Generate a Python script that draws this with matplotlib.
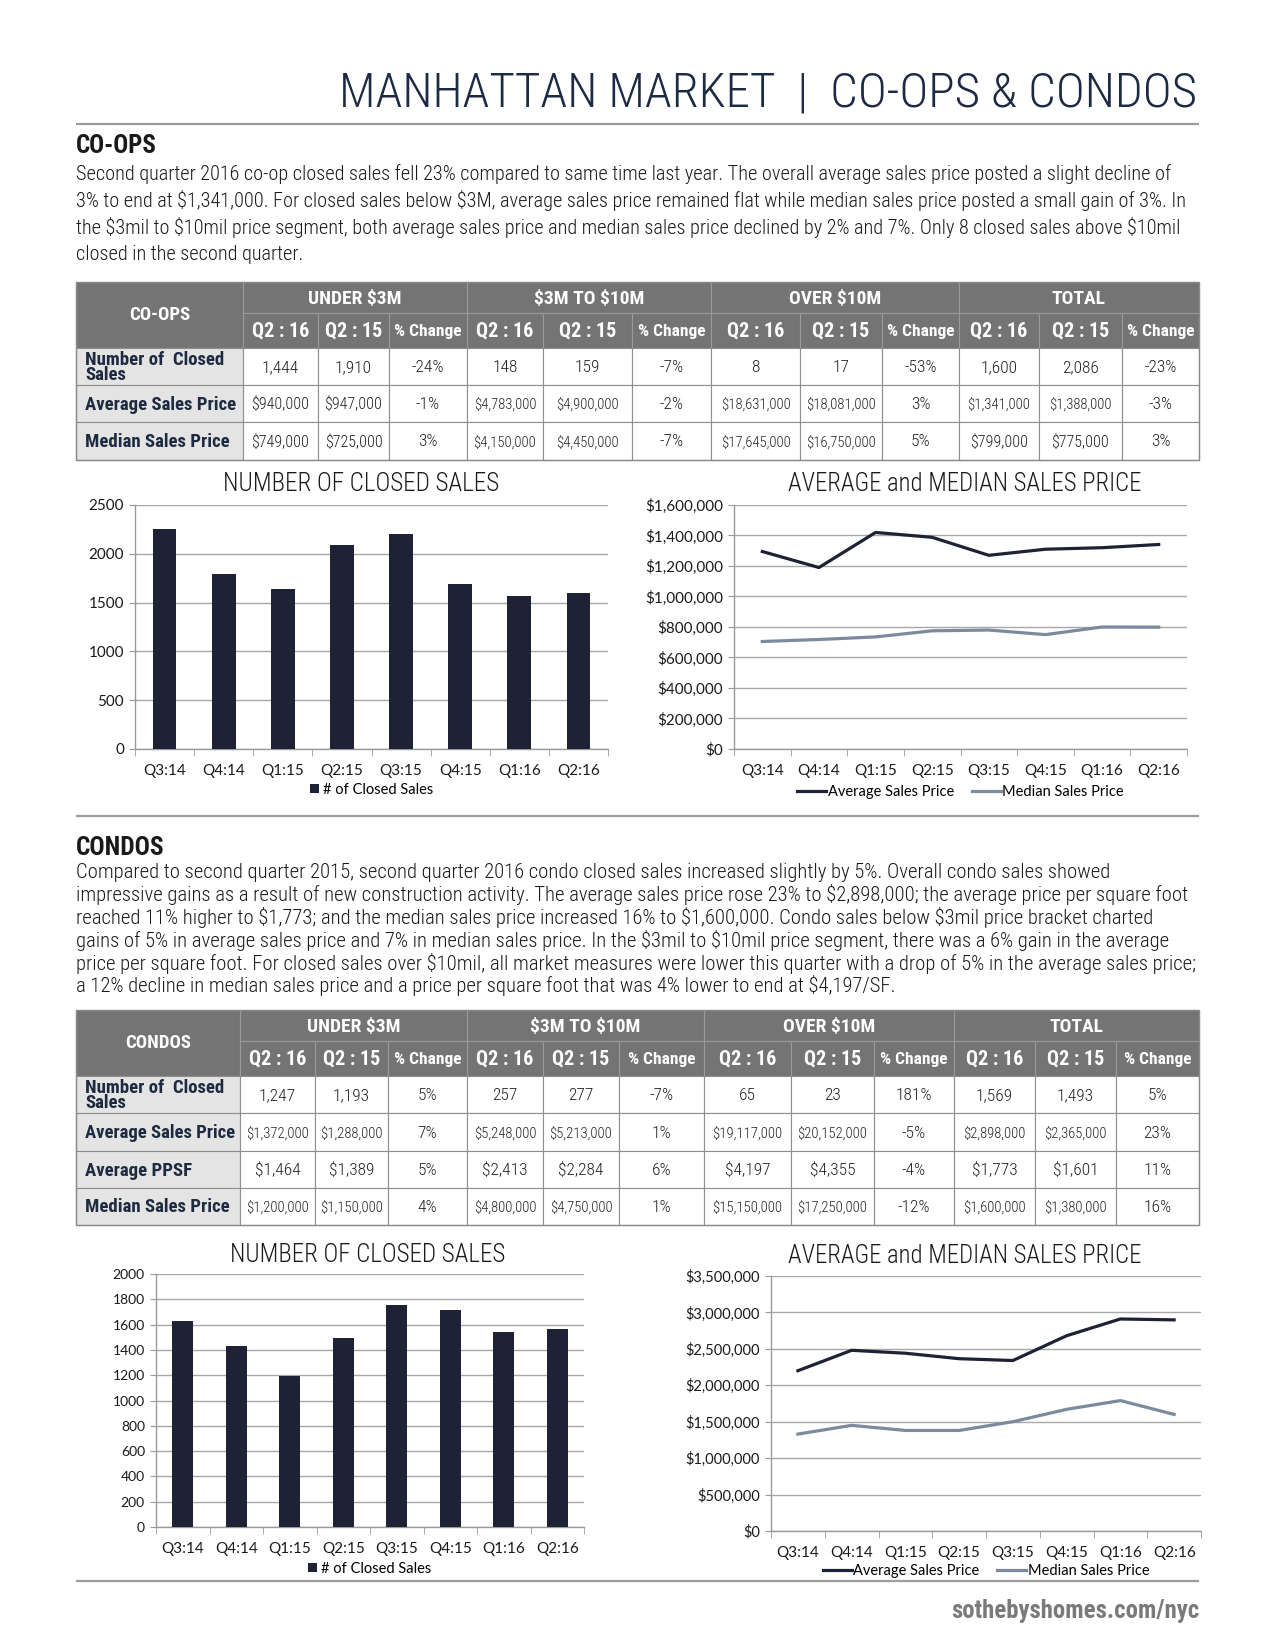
import os
import numpy as np
import matplotlib
matplotlib.use("Agg")
import matplotlib.pyplot as plt
from matplotlib import font_manager as fm
from matplotlib.patches import Rectangle
from matplotlib.ticker import FuncFormatter

plt.rcParams['text.parse_math'] = False

# ---- data ----
quarters = ["Q3:14", "Q4:14", "Q1:15", "Q2:15", "Q3:15", "Q4:15", "Q1:16", "Q2:16"]
coop_sales = [2250, 1790, 1640, 2086, 2200, 1690, 1570, 1600]
coop_avg = [1295000, 1190000, 1420000, 1388000, 1270000, 1310000, 1320000, 1341000]
coop_med = [705000, 718000, 735000, 775000, 780000, 750000, 800000, 799000]
condo_sales = [1630, 1430, 1190, 1493, 1755, 1715, 1545, 1569]
condo_avg = [2200000, 2480000, 2440000, 2365000, 2340000, 2680000, 2910000, 2898000]
condo_med = [1330000, 1450000, 1380000, 1380000, 1500000, 1670000, 1790000, 1600000]

groups = ["UNDER $3M", "$3M TO $10M", "OVER $10M", "TOTAL"]
sub_cols = ["Q2 : 16", "Q2 : 15", "% Change"]
coop_rows = ["Number of  Closed\nSales", "Average Sales Price", "Median Sales Price"]
coop_cells = [
    ["1,444", "1,910", "-24%", "148", "159", "-7%", "8", "17", "-53%", "1,600", "2,086", "-23%"],
    ["$940,000", "$947,000", "-1%", "$4,783,000", "$4,900,000", "-2%",
     "$18,631,000", "$18,081,000", "3%", "$1,341,000", "$1,388,000", "-3%"],
    ["$749,000", "$725,000", "3%", "$4,150,000", "$4,450,000", "-7%",
     "$17,645,000", "$16,750,000", "5%", "$799,000", "$775,000", "3%"],
]
condo_rows = ["Number of  Closed\nSales", "Average Sales Price", "Average PPSF", "Median Sales Price"]
condo_cells = [
    ["1,247", "1,193", "5%", "257", "277", "-7%", "65", "23", "181%", "1,569", "1,493", "5%"],
    ["$1,372,000", "$1,288,000", "7%", "$5,248,000", "$5,213,000", "1%",
     "$19,117,000", "$20,152,000", "-5%", "$2,898,000", "$2,365,000", "23%"],
    ["$1,464", "$1,389", "5%", "$2,413", "$2,284", "6%", "$4,197", "$4,355", "-4%", "$1,773", "$1,601", "11%"],
    ["$1,200,000", "$1,150,000", "4%", "$4,800,000", "$4,750,000", "1%",
     "$15,150,000", "$17,250,000", "-12%", "$1,600,000", "$1,380,000", "16%"],
]

title = "MANHATTAN MARKET  |  CO-OPS & CONDOS"
coop_text = [
    "Second quarter 2016 co-op closed sales fell 23% compared to same time last year. The overall average sales price posted a slight decline of",
    "3% to end at $1,341,000. For closed sales below $3M, average sales price remained flat while median sales price posted a small gain of 3%. In",
    "the $3mil to $10mil price segment, both average sales price and median sales price declined by 2% and 7%. Only 8 closed sales above $10mil",
    "closed in the second quarter.",
]
condo_text = [
    "Compared to second quarter 2015, second quarter 2016 condo closed sales increased slightly by 5%. Overall condo sales showed",
    "impressive gains as a result of new construction activity. The average sales price rose 23% to $2,898,000; the average price per square foot",
    "reached 11% higher to $1,773; and the median sales price increased 16% to $1,600,000. Condo sales below $3mil price bracket charted",
    "gains of 5% in average sales price and 7% in median sales price. In the $3mil to $10mil price segment, there was a 6% gain in the average",
    "price per square foot. For closed sales over $10mil, all market measures were lower this quarter with a drop of 5% in the average sales price;",
    "a 12% decline in median sales price and a price per square foot that was 4% lower to end at $4,197/SF.",
]

# ---- fonts ----
files = [f.fname for f in fm.fontManager.ttflist]


def find_font(patterns, fallback_weight):
    for p in patterns:
        for f in files:
            if os.path.basename(f).lower().startswith(p):
                return fm.FontProperties(fname=f)
    return fm.FontProperties(family="Liberation Sans", weight=fallback_weight)


F_LIGHT = find_font(["notosans-condensedlight.", "robotocondensed-light.", "opensans_condensed-light.",
                     "opensans-condensedlight.", "liberationsansnarrow-regular.", "dejavusanscondensed."], "light")
F_REG = find_font(["notosans-condensed.", "robotocondensed-regular.", "liberationsansnarrow-regular.",
                   "opensans_condensed-regular.", "dejavusanscondensed."], "normal")
F_BOLD = find_font(["notosans-condensedbold.", "robotocondensed-bold.", "liberationsansnarrow-bold.",
                    "opensans_condensed-bold.", "dejavusanscondensed-bold."], "bold")
CHART_FONT = ["Lato", "Open Sans", "DejaVu Sans"]

NAVY = "#1e2234"
MEDIAN = "#7b8b9d"
TITLE_C = "#1c2a44"
GRID = "#a8a8a8"
HEAD = "#747474"

W, H = 1275, 1650
fig = plt.figure(figsize=(W / 100, H / 100), dpi=100)
bg = fig.add_axes([0, 0, 1, 1])
bg.set_xlim(0, W)
bg.set_ylim(H, 0)
bg.axis("off")
R = fig.canvas.get_renderer()


def fp(base, size):
    f = base.copy()
    f.set_size(size)
    return f


def text_w(t):
    return t.get_window_extent(R).width


def fitted(x, y, s, base, size, width, **kw):
    t = bg.text(x, y, s, fontproperties=fp(base, size), **kw)
    t.set_fontproperties(fp(base, size * width / text_w(t)))
    return t


def paragraph(lines, x, y0, dy, width, size):
    ts = [bg.text(x, y0 + i * dy, s, fontproperties=fp(F_LIGHT, size), ha="left",
                  va="center", color="#1a1a1a") for i, s in enumerate(lines)]
    k = width / max(text_w(t) for t in ts)
    for t in ts:
        t.set_fontproperties(fp(F_LIGHT, size * k))


def cell_text(x, y, s, base, size, maxw, ha="center", color="#222222", **kw):
    t = bg.text(x, y, s, fontproperties=fp(base, size), ha=ha, va="center", color=color, **kw)
    w = text_w(t)
    if w > maxw:
        t.set_fontproperties(fp(base, size * maxw / w))
    return t


def rule(y):
    bg.plot([76, 1199], [y, y], color="#9c9c9c", lw=1.6, solid_capstyle="butt")


def draw_table(corner, rows, cells, xs, ys):
    bg.add_patch(Rectangle((xs[0], ys[0]), xs[1] - xs[0], ys[2] - ys[0],
                           facecolor=HEAD, edgecolor="#9a9a9a", lw=0.8))
    cell_text((xs[0] + xs[1]) / 2, (ys[0] + ys[2]) / 2, corner, F_BOLD, 13.5, 150, color="white")
    for g, name in enumerate(groups):
        x0, x1 = xs[1 + 3 * g], xs[4 + 3 * g]
        bg.add_patch(Rectangle((x0, ys[0]), x1 - x0, ys[1] - ys[0],
                               facecolor=HEAD, edgecolor="#9a9a9a", lw=0.8))
        cell_text((x0 + x1) / 2, (ys[0] + ys[1]) / 2 + 1, name, F_BOLD, 14, x1 - x0 - 6, color="white")
        for j, sc in enumerate(sub_cols):
            a, b = xs[1 + 3 * g + j], xs[2 + 3 * g + j]
            bg.add_patch(Rectangle((a, ys[1]), b - a, ys[2] - ys[1],
                                   facecolor=HEAD, edgecolor="#9a9a9a", lw=0.8))
            size = 12.5 if j == 2 else 14.5
            cell_text((a + b) / 2, (ys[1] + ys[2]) / 2 + 1, sc, F_BOLD, size, b - a - 2, color="white")
    for r, label in enumerate(rows):
        y0, y1 = ys[2 + r], ys[3 + r]
        bg.add_patch(Rectangle((xs[0], y0), xs[1] - xs[0], y1 - y0,
                               facecolor="#e4e4e4", edgecolor="#8e8e8e", lw=0.8))
        cell_text(xs[0] + 9, (y0 + y1) / 2 + 1, label, F_BOLD, 13.5, xs[1] - xs[0] - 14,
                  ha="left", color="#1d2a40", linespacing=0.82)
        for c, val in enumerate(cells[r]):
            a, b = xs[1 + c], xs[2 + c]
            bg.add_patch(Rectangle((a, y0), b - a, y1 - y0,
                                   facecolor="white", edgecolor="#8e8e8e", lw=0.8))
            n = len(val)
            size = 12.5 if n <= 6 else (11.5 if n <= 8 else 10.5)
            cell_text((a + b) / 2, (y0 + y1) / 2 + 1, val, F_LIGHT, size, b - a - 4)
    bg.add_patch(Rectangle((xs[0], ys[0]), xs[-1] - xs[0], ys[-1] - ys[0],
                           facecolor="none", edgecolor="#8a8a8a", lw=1.0))


def axes_px(l, t, r, b):
    return fig.add_axes([l / W, 1 - b / H, (r - l) / W, (b - t) / H])


def style_axes(ax, n, ysize):
    ax.set_xlim(-0.5, n - 0.5)
    for s in ["top", "right"]:
        ax.spines[s].set_visible(False)
    for s in ["left", "bottom"]:
        ax.spines[s].set_color("#9a9a9a")
        ax.spines[s].set_linewidth(1.0)
    ax.grid(axis="y", color=GRID, lw=1.0)
    ax.set_axisbelow(True)
    ax.set_xticks(np.arange(n))
    ax.set_xticklabels(quarters)
    ax.set_xticks(np.arange(-0.5, n), minor=True)
    ax.tick_params(axis="x", which="major", length=0, pad=11, labelsize=11, labelcolor="#1a1a1a")
    ax.tick_params(axis="x", which="minor", length=5, color="#9a9a9a")
    ax.tick_params(axis="y", length=4, color="#9a9a9a", pad=4, labelsize=ysize, labelcolor="#1a1a1a")
    for lab in ax.get_xticklabels() + ax.get_yticklabels():
        lab.set_fontfamily(CHART_FONT)


def bar_chart(box, vals, ymax, step, leg_px, ysize):
    l, t, r, b = box
    ax = axes_px(l, t, r, b)
    x = np.arange(len(quarters))
    ax.bar(x, vals, width=0.4, color=NAVY, label="# of Closed Sales", zorder=3)
    ax.set_ylim(0, ymax)
    ax.set_yticks(np.arange(0, ymax + 1, step))
    style_axes(ax, len(quarters), ysize)
    ax.legend(loc="center", bbox_to_anchor=(0.5, -(leg_px - b) / (b - t)), frameon=False,
              handlelength=0.6, handleheight=0.6, handletextpad=0.3,
              prop=fm.FontProperties(family=CHART_FONT, size=10.5))
    return ax


def line_chart(box, avg, med, ymax, step, leg_px, ysize):
    l, t, r, b = box
    ax = axes_px(l, t, r, b)
    x = np.arange(len(quarters))
    ax.plot(x, avg, color=NAVY, lw=2.3, label="Average Sales Price", zorder=3)
    ax.plot(x, med, color=MEDIAN, lw=2.3, label="Median Sales Price", zorder=3)
    ax.set_ylim(0, ymax)
    ax.set_yticks(np.arange(0, ymax + 1, step))
    ax.yaxis.set_major_formatter(FuncFormatter(lambda v, _: f"${v:,.0f}"))
    style_axes(ax, len(quarters), ysize)
    ax.legend(loc="center", bbox_to_anchor=(0.5, -(leg_px - b) / (b - t)), frameon=False, ncol=2,
              handlelength=2.0, handletextpad=0.1, columnspacing=1.2,
              prop=fm.FontProperties(family=CHART_FONT, size=10.5))
    return ax


# ---- header ----
fitted(1197, 93, title, F_LIGHT, 36, 857, ha="right", va="center", color=TITLE_C)
rule(124)

# ---- co-ops ----
fitted(76, 146, "CO-OPS", F_BOLD, 14, 81, ha="left", va="center", color="#1a1a1a")
paragraph(coop_text, 76, 174, 26.7, 1111, 12.5)
draw_table("CO-OPS", coop_rows, coop_cells,
           [76, 243, 318, 389, 467, 543, 632, 711, 800, 882, 959, 1039, 1122, 1199],
           [282, 313, 348, 385, 422, 460])

fitted(361, 484, "NUMBER OF CLOSED SALES", F_LIGHT, 16, 276, ha="center", va="center", color="#1a1a1a")
bar_chart((135, 505, 608, 749), coop_sales, 2500, 500, 790, 11)
fitted(965, 484, "AVERAGE and MEDIAN SALES PRICE", F_LIGHT, 16, 353, ha="center", va="center", color="#1a1a1a")
line_chart((734, 505, 1187, 749), coop_avg, coop_med, 1600000, 200000, 792, 11)

rule(816)

# ---- condos ----
fitted(76, 848, "CONDOS", F_BOLD, 14, 89, ha="left", va="center", color="#1a1a1a")
paragraph(condo_text, 76, 872, 22.8, 1117, 12.5)
draw_table("CONDOS", condo_rows, condo_cells,
           [76, 240, 315, 388, 467, 543, 619, 704, 791, 874, 954, 1035, 1116, 1199],
           [1010, 1041, 1076, 1113, 1151, 1188, 1225])

fitted(368, 1255, "NUMBER OF CLOSED SALES", F_LIGHT, 16, 275, ha="center", va="center", color="#1a1a1a")
bar_chart((156, 1274, 584, 1527), condo_sales, 2000, 200, 1569, 10)
fitted(965, 1256, "AVERAGE and MEDIAN SALES PRICE", F_LIGHT, 16, 353, ha="center", va="center", color="#1a1a1a")
line_chart((771, 1276, 1201, 1531), condo_avg, condo_med, 3500000, 500000, 1571, 10.5)

rule(1581)
fitted(1199, 1611, "sothebyshomes.com/nyc", F_BOLD, 15, 248, ha="right", va="center", color="#7a7a7a")

fig.savefig("out.png", dpi=100)
